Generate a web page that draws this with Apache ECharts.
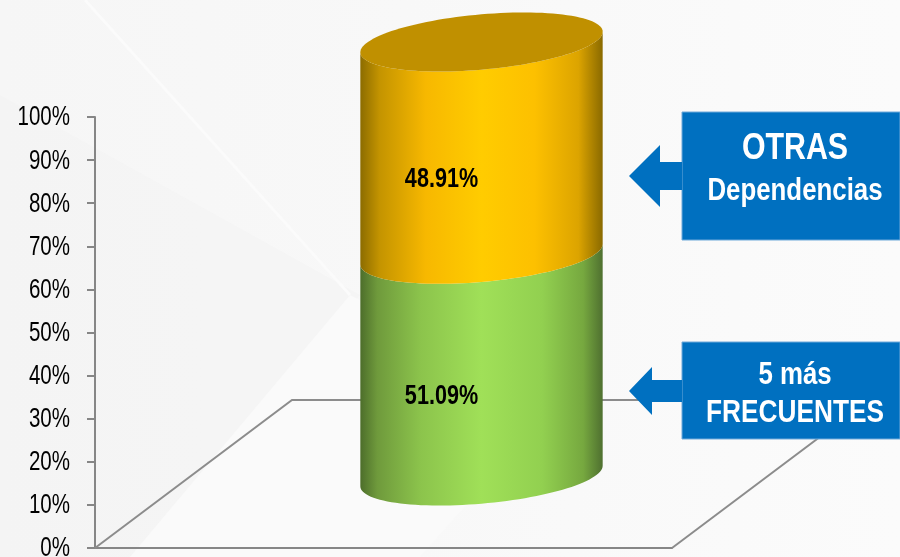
<!DOCTYPE html>
<html>
<head>
<meta charset="utf-8">
<style>html,body{margin:0;padding:0;background:#f8f8f8}#main{width:900px;height:557px}</style>
<script src="https://cdn.jsdelivr.net/npm/echarts@6/dist/echarts.min.js"></script>
</head>
<body>
<div id="main"></div>
<script>
var categories = ['Dependencias'];
var tickValues = [0,10,20,30,40,50,60,70,80,90,100];
var tickLabels = ['0%','10%','20%','30%','40%','50%','60%','70%','80%','90%','100%'];
var seriesNames = ['5 más FRECUENTES','OTRAS Dependencias'];
var seriesValues = [51.09,48.91];
var boxTitles = [['OTRAS','Dependencias'],['5 más','FRECUENTES']];

// no narrow font here, so Liberation Sans gets squeezed with scaleX
var font = '"Liberation Sans",Arial,sans-serif';
var narrow = 0.82;
var blue = '#0070c0';

var gradients = [
	[[0,'#4d6e2b'],[0.07,'#6f9a3c'],[0.25,'#8cc44c'],[0.5,'#a0e058'],[0.75,'#92d050'],[0.92,'#76a83f'],[1,'#4f7030']],
	[[0,'#8c6c00'],[0.08,'#c49400'],[0.27,'#f7b800'],[0.5,'#ffcc00'],[0.72,'#fdc000'],[0.9,'#dca400'],[1,'#8a6a00']]
];

function linear(stops){
	return {type:'linear',x:0,y:0,x2:1,y2:0,colorStops:stops.map(function(s){
		return {offset:s[0],color:s[1]};
	})};
}

// the oblique look of the cylinder: a circle sheared upwards to the right
function ellipsePoint(cx,cy,r,t){
	return [cx+r*Math.cos(t), cy-0.085*r*Math.cos(t)+27.7*Math.sin(t)];
}
function frontArc(cx,cy,r,reverse){
	var pts = [];
	for(var i=0;i<=60;i++){
		var k = reverse ? 60-i : i;
		pts.push(ellipsePoint(cx,cy,r,Math.PI-Math.PI*k/60));
	}
	return pts;
}

function renderCylinder(params,api){
	var start = api.value(1), end = api.value(2), idx = api.value(3);
	var bottom = api.coord([0,start]), top = api.coord([0,end]);
	var r = api.size([1,0])[0]*0.42/2;
	var cx = bottom[0];
	var children = [{
		type:'polygon',
		shape:{points:frontArc(cx,top[1],r,false).concat(frontArc(cx,bottom[1],r,true))},
		style:{fill:linear(gradients[idx])}
	}];
	if(idx==seriesValues.length-1){
		var cap = [];
		for(var i=0;i<120;i++){
			cap.push(ellipsePoint(cx,top[1],r,Math.PI*2*i/120));
		}
		children.push({type:'polygon',shape:{points:cap},style:{fill:'#c09000'}});
	}
	children.push({
		type:'text',
		x:cx-40,y:(bottom[1]+top[1])/2+31,scaleX:0.8,
		style:{
			x:0,y:0,
			text:seriesValues[idx].toFixed(2)+'%',
			font:'bold 27px '+font,fill:'#000',align:'center',verticalAlign:'middle'
		}
	});
	return {type:'group',children:children};
}

function renderTickLabel(params,api){
	var pos = api.coord([0,api.value(1)]);
	return {
		type:'text',
		x:95-25,y:pos[1]+1,scaleX:0.76,
		style:{x:0,y:0,text:tickLabels[params.dataIndex],font:'27px '+font,fill:'#000',align:'right',verticalAlign:'middle'}
	};
}

var stacked = [], acc = 0;
seriesValues.forEach(function(v,i){
	stacked.push([0,acc,acc+v,i]);
	acc += v;
});

function arrow(tipX,tipY,baseX,headH,stemH,boxX){
	return {
		type:'polygon',z:10,
		shape:{points:[[tipX,tipY],[baseX,tipY-headH],[baseX,tipY-stemH],[boxX,tipY-stemH],[boxX,tipY+stemH],[baseX,tipY+stemH],[baseX,tipY+headH]]},
		style:{fill:blue}
	};
}
function box(y,h){
	return {type:'rect',z:10,shape:{x:682,y:y,width:218,height:h},style:{fill:blue,stroke:'#6fa9da',lineWidth:1}};
}
function boxText(text,y,size){
	return {type:'text',z:11,x:795,y:y,scaleX:narrow,style:{x:0,y:0,text:text,font:'bold '+size+'px '+font,fill:'#fff',align:'center',verticalAlign:'middle'}};
}

var option = {
	animation:false,
	backgroundColor:'#f9f9f9',
	grid:[
		{left:95,top:117,width:577,height:431},
		// cylinder stands in the middle of the floor, so this grid is shifted by the floor depth
		{left:193,top:42,width:577,height:434}
	],
	xAxis:[
		{gridIndex:0,type:'category',data:categories,axisTick:{show:false},axisLabel:{show:false},
			axisLine:{lineStyle:{color:'#868686',width:2}}},
		{gridIndex:1,type:'category',data:categories,show:false}
	],
	yAxis:[
		{gridIndex:0,type:'value',min:0,max:100,interval:10,splitLine:{show:false},
			axisLine:{show:true,lineStyle:{color:'#868686',width:2}},
			axisTick:{show:true,length:8,lineStyle:{color:'#868686',width:2}},
			axisLabel:{show:false}},
		{gridIndex:1,type:'value',min:0,max:100,show:false}
	],
	graphic:[
		// background facets
		{type:'rect',z:-20,shape:{x:0,y:0,width:900,height:557},style:{fill:{type:'linear',x:0,y:0,x2:1,y2:0,colorStops:[{offset:0,color:'#f6f6f6'},{offset:0.45,color:'#f8f8f8'},{offset:1,color:'#fbfbfb'}]}}},
		{type:'polygon',z:-19,shape:{points:[[0,95],[360,295],[130,557],[0,557]]},style:{fill:'#f3f3f3',opacity:0.7}},
		{type:'polygon',z:-18,shape:{points:[[350,295],[130,557],[420,557],[560,400]]},style:{fill:'#fafafa'}},
		{type:'line',z:-17,shape:{x1:85,y1:0,x2:350,y2:295},style:{stroke:'#fbfbfb',lineWidth:3}},
		// floor of the 3d plot
		{type:'polyline',z:1,shape:{points:[[95,548],[292,400],[869,400],[672,548]]},style:{fill:null,stroke:'#8c8c8c',lineWidth:2}},
		box(112,128),box(342,97),
		arrow(629,176,660,31,14,682),
		arrow(629,391,652,24,11,682),
		boxText(boxTitles[0][0],149,37),
		boxText(boxTitles[0][1],191,31.5),
		boxText(boxTitles[1][0],375,31.5),
		boxText(boxTitles[1][1],413,32)
	],
	series:[{
		name:seriesNames[0],
		type:'custom',xAxisIndex:1,yAxisIndex:1,z:3,clip:false,
		renderItem:renderCylinder,
		encode:{x:0,y:[1,2]},
		data:[stacked[0]]
	},{
		name:seriesNames[1],
		type:'custom',xAxisIndex:1,yAxisIndex:1,z:4,clip:false,
		renderItem:renderCylinder,
		encode:{x:0,y:[1,2]},
		data:[stacked[1]]
	},{
		name:'ticks',
		type:'custom',xAxisIndex:0,yAxisIndex:0,z:5,clip:false,silent:true,
		renderItem:renderTickLabel,
		encode:{x:0,y:1},
		data:tickValues.map(function(v){return [0,v];})
	}]
};

var myChart = echarts.init(document.getElementById('main'));
myChart.setOption(option);
</script>
</body>
</html>
